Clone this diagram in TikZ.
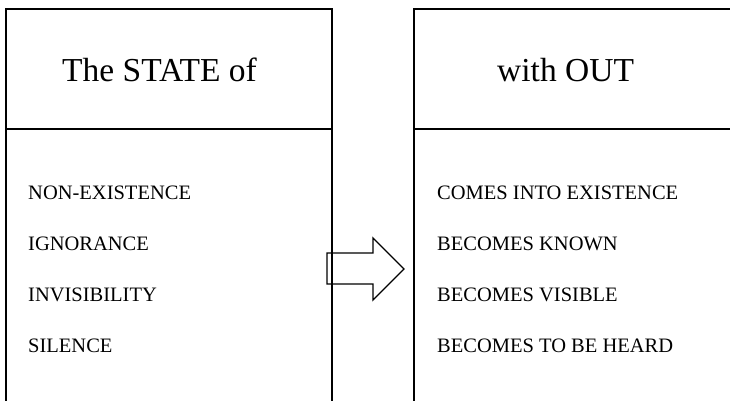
\documentclass[tikz,border=0pt]{standalone}
\usepackage{fontspec}
\setmainfont{Liberation Serif}
\begin{document}
\begin{tikzpicture}[line cap=butt,line join=miter,x=1pt,y=1pt]
    \tikzset{
        frame/.style={line width=2pt},
        headtext/.style={anchor=base west,inner sep=0pt,font=\fontsize{33.5}{40}\selectfont},
        itemtext/.style={anchor=base west,inner sep=0pt,font=\fontsize{20.5}{25}\selectfont},
        blockarrow/.style={line width=1.4pt}
    }
    \clip (0,0) rectangle (730,-401);
    
    % left box
    \draw [frame] (6,-410) -- (6,-9) -- (332,-9) -- (332,-410);
    \draw [frame] (6,-129) -- (332,-129);
    
    % right box
    \draw [frame] (414,-410) -- (414,-9) -- (740,-9) -- (740,-410);
    \draw [frame] (414,-129) -- (740,-129);
    
    \node [headtext] (statehead) at (62,-82) {The STATE of};
    \node [headtext] (outhead) at (497,-82) {with OUT};
    
    \node [itemtext] (nonexist) at (28,-199) {NON-EXISTENCE};
    \node [itemtext] (ignorance) at (28,-250) {IGNORANCE};
    \node [itemtext] (invisible) at (28,-301) {INVISIBILITY};
    \node [itemtext] (silence) at (28,-352) {SILENCE};
    
    \node [itemtext] (comesinto) at (437,-199) {COMES INTO EXISTENCE};
    \node [itemtext] (known) at (437,-250) {BECOMES KNOWN};
    \node [itemtext] (visible) at (437,-301) {BECOMES VISIBLE};
    \node [itemtext] (heard) at (437,-352) {BECOMES TO BE HEARD};
    
    \draw [blockarrow] (327,-253) -- (373,-253) -- (373,-238) -- (404,-269) -- (373,-300) -- (373,-284) -- (327,-284) -- cycle;
\end{tikzpicture}
\end{document}
